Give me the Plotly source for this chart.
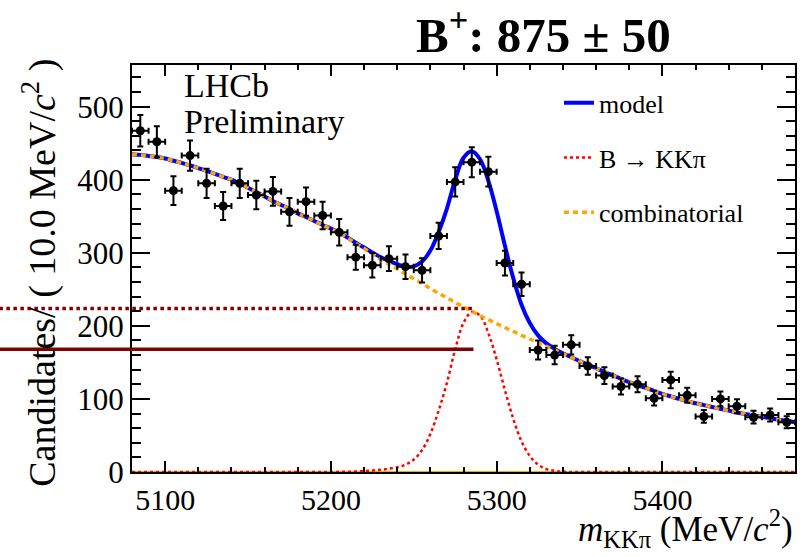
import plotly.graph_objects as go

# ---------------- data ----------------
bin_centres = [5085, 5095, 5105, 5115, 5125, 5135, 5145, 5155, 5165, 5175,
               5185, 5195, 5205, 5215, 5225, 5235, 5245, 5255, 5265, 5275,
               5285, 5295, 5305, 5315, 5325, 5335, 5345, 5355, 5365, 5375,
               5385, 5395, 5405, 5415, 5425, 5435, 5445, 5455, 5465, 5475]
counts = [467, 452, 385, 433, 395, 364, 395, 379, 384, 356,
          370, 351, 328, 294, 283, 292, 281, 276, 323, 397,
          424, 411, 286, 257, 167, 160, 174, 145, 132, 117,
          120, 101, 126, 105, 76, 100, 90, 75, 78, 68]
bin_half_width = 5

curve_mass = list(range(5080, 5481, 5))
comb_curve = [435, 434, 432.5, 431, 429, 426, 423, 419.5, 416, 412,
              408, 404, 400, 394.5, 389, 383, 377, 371, 365.5, 360,
              354, 349, 343.5, 338, 333, 327, 320.5, 313, 306, 298.5,
              291, 284.5, 278, 271, 264.5, 258, 251, 244.5, 238.5, 232,
              226, 220, 214, 208.5, 203, 197.5, 192.5, 187, 182, 177,
              172, 167, 162, 157, 152, 147, 142, 137, 132.5, 127.5,
              123, 119, 115, 111, 107, 103.5, 100, 97, 94, 91.5,
              89, 86.5, 84, 81.5, 79.5, 77.5, 75.5, 73.5, 71.5, 70, 68]
signal_curve = [0] * 24 + [0.1, 0.2, 0.4, 0.7, 1.2, 2, 3, 4.5, 6.5, 10,
                           17, 30, 52, 84, 122, 168, 204, 219, 214, 190,
                           154, 112, 73, 42, 22, 10, 4, 1.5, 0.5, 0.1] + [0] * 27
other_curve = [0] * len(curve_mass)
model_curve = [c + s for c, s in zip(comb_curve, signal_curve)]

title_text = "<b>B<sup>+</sup>: 875 ± 50</b>"
peak_mass = 5286
peak_height_level = 223.6
reference_level = 168
x_range = [5080, 5480]
y_range = [0, 557]

FONT = "Liberation Serif"

fig = go.Figure()

fig.add_trace(go.Scatter(x=curve_mass, y=other_curve, mode="lines",
                         line=dict(color="#ffa500", width=2), showlegend=False,
                         hoverinfo="skip"))
fig.add_trace(go.Scatter(x=curve_mass, y=model_curve, mode="lines", name="model",
                         line=dict(color="#0000ff", width=4, shape="spline"),
                         legendgroup="a"))
fig.add_trace(go.Scatter(x=curve_mass, y=signal_curve, mode="lines", name="B → KKπ",
                         line=dict(color="#ff0000", width=2.5, dash="dot", shape="spline"),
                         legendgroup="b"))
fig.add_trace(go.Scatter(x=curve_mass, y=comb_curve, mode="lines", name="combinatorial",
                         line=dict(color="#ffa500", width=3.5, dash="5px,4px", shape="spline"),
                         legendgroup="c"))
fig.add_trace(go.Scatter(
    x=bin_centres, y=counts, mode="markers", showlegend=False,
    marker=dict(color="black", size=9, symbol="circle"),
    error_y=dict(type="data", array=[c ** 0.5 for c in counts], color="black",
                 thickness=2, width=3),
    error_x=dict(type="constant", value=bin_half_width, color="black",
                 thickness=2, width=3),
))

# horizontal level lines extending out of the frame to the left
x_frac = (peak_mass - x_range[0]) / (x_range[1] - x_range[0])
fig.add_shape(type="line", xref="paper", yref="y", x0=-0.2, x1=x_frac,
              y0=peak_height_level, y1=peak_height_level,
              line=dict(color="#800000", width=3.5, dash="dot"), layer="above")
fig.add_shape(type="line", xref="paper", yref="y", x0=-0.2, x1=x_frac,
              y0=reference_level, y1=reference_level,
              line=dict(color="#800000", width=3.5), layer="above")

axis_common = dict(showline=True, linewidth=2, linecolor="black", mirror="allticks",
                   showgrid=False, zeroline=False, ticks="inside", tickcolor="black",
                   tickwidth=1.5)

fig.update_xaxes(range=x_range, dtick=100, tick0=5000, ticklen=11,
                 tickfont=dict(family=FONT, size=30, color="black"),
                 minor=dict(dtick=20, ticklen=5, ticks="inside", tickcolor="black", tickwidth=1.5),
                 **axis_common)
fig.update_yaxes(range=y_range, dtick=100, tick0=0, ticklen=18,
                 tickfont=dict(family=FONT, size=31, color="black"),
                 minor=dict(dtick=20, ticklen=9, ticks="inside", tickcolor="black", tickwidth=1.5),
                 **axis_common)

fig.add_annotation(text=title_text, xref="paper", yref="paper", x=0.621, y=1.082,
                   xanchor="center", yanchor="middle", showarrow=False,
                   font=dict(family=FONT, size=49, color="black"))
fig.add_annotation(text="LHCb", xref="paper", yref="paper", x=0.076, y=0.95,
                   xanchor="left", yanchor="middle", align="left", showarrow=False,
                   font=dict(family=FONT, size=34, color="black"))
fig.add_annotation(text="Preliminary", xref="paper", yref="paper", x=0.076, y=0.862,
                   xanchor="left", yanchor="middle", align="left", showarrow=False,
                   font=dict(family=FONT, size=34, color="black"))
fig.add_annotation(text="<i>m</i><sub>KKπ</sub> (MeV/<i>c</i><sup>2</sup>)",
                   xref="paper", yref="paper", x=1.0, y=-0.203, xanchor="right", yanchor="bottom",
                   showarrow=False, font=dict(family=FONT, size=35, color="black"))
fig.add_annotation(text="Candidates/ ( 10.0 MeV/<i>c</i><sup>2</sup> )",
                   xref="paper", yref="paper", x=-0.14, y=0.49, textangle=-90,
                   xanchor="center", yanchor="middle", showarrow=False,
                   font=dict(family=FONT, size=38, color="black"))

fig.update_layout(
    width=805, height=557,
    margin=dict(l=132, r=8, t=65, b=85),
    paper_bgcolor="white", plot_bgcolor="white",
    showlegend=True,
    legend=dict(x=0.644, y=0.965, xanchor="left", yanchor="top",
                font=dict(family=FONT, size=26, color="black"),
                bgcolor="rgba(0,0,0,0)", tracegroupgap=18, traceorder="grouped",
                itemwidth=30),
)

fig.write_html("out.html")
